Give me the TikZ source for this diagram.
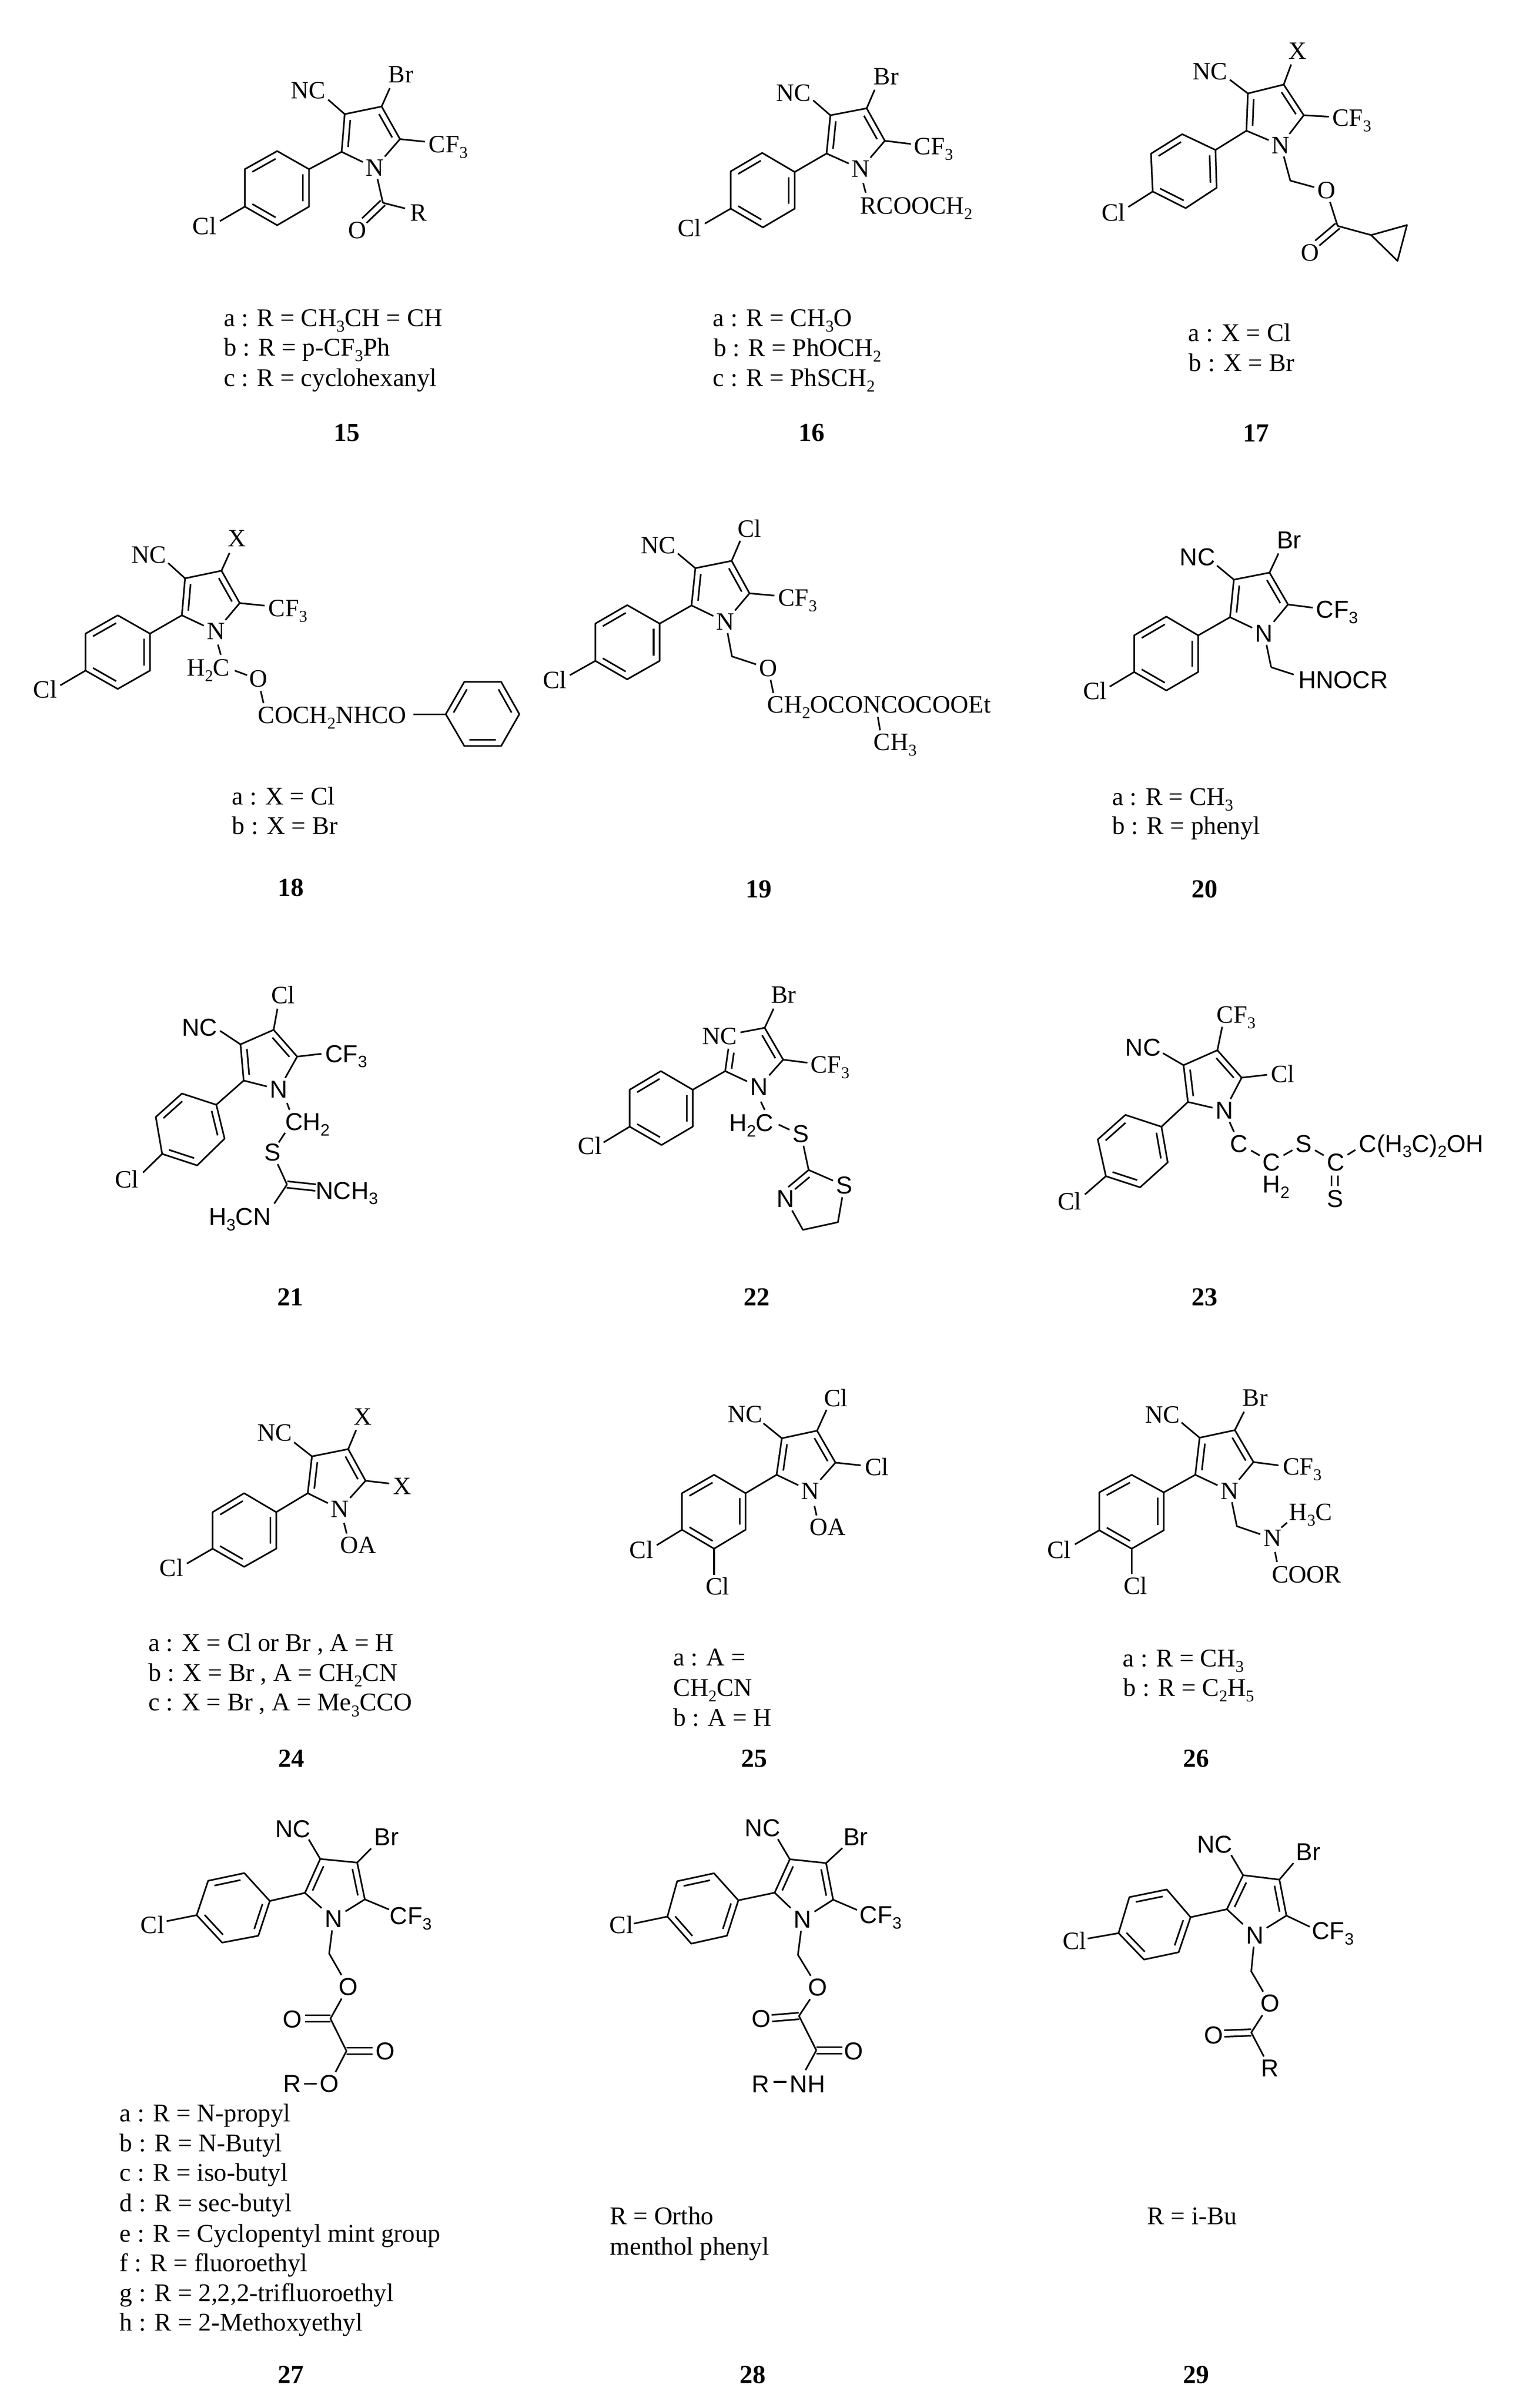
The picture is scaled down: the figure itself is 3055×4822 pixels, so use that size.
\documentclass[tikz,border=0pt]{standalone}
\usepackage{fontspec}
\setmainfont{Liberation Serif}
\newfontfamily\arial{Liberation Sans}
\usetikzlibrary{calc}
\newcommand\subs[1]{\raisebox{-.22em}{\fontsize{33}{33}\selectfont #1}}
\tikzset{
 bond/.style={line width=3.2pt,line join=round,line cap=butt,black},
 lab/.style={inner sep=6pt,anchor=base west,xshift=-6pt,font=\fontsize{50}{58}\selectfont},
 sl/.style={lab,font=\arial\fontsize{49}{58}\selectfont},
 leg/.style={lab,font=\fontsize{51}{58}\selectfont},
 num/.style={lab,font=\bfseries\fontsize{52}{58}\selectfont},
 zv/.style n args={4}{shift={(#1,#2)},x=#3pt,y=-#4pt}
}
\newcounter{endpt}
\newcommand\bto[2]{\stepcounter{endpt}\coordinate (e\theendpt) at (#2);\draw[bond] (#1) -- (e\theendpt);}
\newcommand\bbb[2]{\stepcounter{endpt}\coordinate (e\theendpt) at (#1);\coordinate (f\theendpt) at (#2);\draw[bond] (e\theendpt) -- (f\theendpt);}
\newcommand\dbl[2]{\draw[bond] ($(#1)!.14!(#2)!12pt!90:(#2)$) -- ($(#2)!.14!(#1)!12pt!-90:(#1)$);}
\newcommand\dblto[2]{\stepcounter{endpt}\coordinate (e\theendpt) at (#2);
 \draw[bond] ($(#1)!6.5pt!90:(e\theendpt)$) -- ($(e\theendpt)!6.5pt!-90:(#1)$);
 \draw[bond] ($(#1)!6.5pt!-90:(e\theendpt)$) -- ($(e\theendpt)!6.5pt!90:(#1)$);}
\newcommand\pyrpts[5]{\coordinate (#1c2) at (#2);\coordinate (#1c3) at (#3);\coordinate (#1c4) at (#4);\coordinate (#1c5) at (#5);}
\newcommand\arpts[7]{\coordinate (#1i) at (#2);\coordinate (#1t) at (#3);\coordinate (#1ul) at (#4);\coordinate (#1ll) at (#5);\coordinate (#1bo) at (#6);\coordinate (#1lr) at (#7);}
\newcommand\arring[1]{\draw[bond] (#1i) -- (#1t) -- (#1ul) -- (#1ll) -- (#1bo) -- (#1lr) -- cycle;
 \dbl{#1t}{#1ul}\dbl{#1ll}{#1bo}\dbl{#1lr}{#1i}}
\newcommand\core[1]{\draw[bond] (#1N) -- (#1c2) -- (#1c3) -- (#1c4) -- (#1c5) -- (#1N);
 \dbl{#1c5}{#1c4}\dbl{#1c3}{#1c2}
 \draw[bond] (#1c2) -- (#1i);
 \arring{#1}}
\begin{document}
\begin{tikzpicture}[x=1pt,y=-1pt]
\useasboundingbox (0,0) rectangle (3055,4822);
\fill[white] (0,0) rectangle (3055,4822);

% 15
\begin{scope}[zv={300}{100}{.5102}{.5102}]
\pyrpts{p15}{753,400}{765,252}{910,222}{982,350}
\arpts{p15}{625,468}{500,397}{373,468}{373,615}{500,688}{625,615}
\coordinate (p15co) at (915,600);
\node[lab] (p15nc) at (553,192) {NC};
\node[lab] (p15br) at (936,128) {Br};
\node[lab] (p15cf) at (1095,402) {CF\subs{3}};
\node[lab] (p15N) at (848,495) {N};
\node[lab] (p15cl) at (168,725) {Cl};
\node[lab] (p15o) at (778,740) {O};
\node[lab] (p15r) at (1022,672) {R};
\core{p15}
\bto{p15c3}{700,195}\bto{p15c4}{942,150}\bto{p15c5}{1080,360}\bto{p15ll}{275,672}
\draw[bond] (p15N) -- (p15co);
\dblto{p15co}{842,670}
\bto{p15co}{1002,622}
\node[leg] (p15la) at (290,1085) {a : R = CH\subs{3}CH = CH};
\node[leg] (p15lb) at (290,1200) {b : R = p-CF\subs{3}Ph};
\node[leg] (p15lc) at (290,1320) {c : R = cyclohexanyl};
\node[num] (p15n) at (722,1535) {15};
\end{scope}

% 16
\begin{scope}[zv={1300}{0}{.6378}{.6378}]
\pyrpts{p16}{557,482}{569,362}{683,340}{740,442}
\arpts{p16}{457,540}{355,480}{256,538}{256,655}{357,714}{457,655}
\node[lab] (p16nc) at (398,318) {NC};
\node[lab] (p16br) at (705,265) {Br};
\node[lab] (p16cf) at (832,485) {CF\subs{3}};
\node[lab] (p16N) at (636,556) {N};
\node[lab] (p16cl) at (90,742) {Cl};
\node[lab] (p16txt) at (662,672) {RCOOCH\subs{2}};
\core{p16}
\bto{p16c3}{515,315}\bto{p16c4}{708,282}\bto{p16c5}{822,452}\bto{p16ll}{175,702}
\bbb{672,575}{680,605}
\node[leg] (p16la) at (200,1025) {a : R = CH\subs{3}O};
\node[leg] (p16lb) at (202,1118) {b : R = PhOCH\subs{2}};
\node[leg] (p16lc) at (200,1213) {c : R = PhSCH\subs{2}};
\node[num] (p16n) at (470,1385) {16};
\end{scope}

% 17
\begin{scope}[zv={2100}{0}{.5741}{.5741}]
\pyrpts{p17}{690,456}{695,326}{820,295}{890,402}
\arpts{p17}{582,523}{466,468}{357,536}{363,668}{478,726}{586,655}
\coordinate (p17ch) at (843,630);
\coordinate (p17co) at (1008,788);
\coordinate (p17p) at (1125,820);
\coordinate (p17q) at (1250,785);
\coordinate (p17s) at (1217,910);
\node[lab] (p17nc) at (502,278) {NC};
\node[lab] (p17x) at (837,207) {X};
\node[lab] (p17cf) at (990,440) {CF\subs{3}};
\node[lab] (p17N) at (778,535) {N};
\node[lab] (p17cl) at (185,770) {Cl};
\node[lab] (p17o) at (937,693) {O};
\node[lab] (p17ox) at (880,910) {O};
\core{p17}
\bto{p17c3}{632,278}\bto{p17c4}{846,225}\bto{p17c5}{978,407}\bto{p17ll}{278,722}
\draw[bond] (p17N) -- (p17ch) -- (p17o);
\draw[bond] (p17o) -- (p17co) -- (p17p);
\dblto{p17co}{937,848}
\draw[bond] (p17p) -- (p17q) -- (p17s) -- cycle;
\node[leg] (p17la) at (487,1190) {a : X = Cl};
\node[leg] (p17lb) at (489,1295) {b : X = Br};
\node[num] (p17n) at (678,1540) {17};
\end{scope}

% 18
\begin{scope}[zv={0}{1000}{.7018}{.5102}]
\pyrpts{p18}{519,455}{528,310}{632,280}{684,407}
\arpts{p18}{428,527}{336,455}{244,527}{244,672}{336,744}{428,672}
\coordinate (p18a) at (1272,843);
\coordinate (p18b) at (1325,716);
\coordinate (p18c) at (1430,716);
\coordinate (p18d) at (1482,843);
\coordinate (p18e) at (1430,968);
\coordinate (p18f) at (1325,968);
\node[lab] (p18nc) at (375,250) {NC};
\node[lab] (p18x) at (650,185) {X};
\node[lab] (p18cf) at (766,460) {CF\subs{3}};
\node[lab] (p18N) at (590,550) {N};
\node[lab] (p18cl) at (95,780) {Cl};
\node[lab] (p18h) at (533,692) {H\subs{2}C};
\node[lab] (p18o) at (712,735) {O};
\node[lab] (p18txt) at (736,880) {COCH\subs{2}NHCO};
\core{p18}
\bto{p18c3}{480,250}\bto{p18c4}{655,210}\bto{p18c5}{755,417}\bto{p18ll}{172,730}
\bbb{622,570}{630,610}\bbb{670,672}{705,690}\bbb{744,752}{752,800}
\bto{p18a}{1180,843}
\draw[bond] (p18a) -- (p18b) -- (p18c) -- (p18d) -- (p18e) -- (p18f) -- cycle;
\dbl{p18b}{p18a}\dbl{p18f}{p18e}\dbl{p18d}{p18c}
\node[leg] (p18la) at (662,1198) {a : X = Cl};
\node[leg] (p18lb) at (662,1315) {b : X = Br};
\node[num] (p18n) at (793,1558) {18};
\end{scope}

% 19
\begin{scope}[zv={1050}{1000}{.6378}{.6378}]
\pyrpts{p19}{525,333}{537,216}{651,193}{707,295}
\arpts{p19}{425,390}{323,332}{223,390}{223,507}{323,565}{425,507}
\coordinate (p19ch) at (652,493);
\node[lab] (p19nc) at (365,170) {NC};
\node[lab] (p19x) at (670,118) {Cl};
\node[lab] (p19cf) at (797,335) {CF\subs{3}};
\node[lab] (p19N) at (603,410) {N};
\node[lab] (p19cl) at (58,594) {Cl};
\node[lab] (p19o) at (737,556) {O};
\node[lab] (p19txt) at (763,670) {CH\subs{2}OCONCOCOOEt};
\node[lab] (p19m) at (1097,788) {CH\subs{3}};
\core{p19}
\bto{p19c3}{482,170}\bto{p19c4}{678,130}\bto{p19c5}{785,302}\bto{p19ll}{143,552}
\draw[bond] (p19N) -- (p19ch) -- (p19o);
\bto{p19o}{782,608}
\bbb{1110,683}{1117,725}
\node[num] (p19n) at (695,1250) {19};
\end{scope}

% 20
\begin{scope}[zv={2050}{1000}{.6378}{.6378}]
\pyrpts{p20}{648,370}{660,252}{772,230}{830,330}
\arpts{p20}{548,427}{448,368}{347,427}{347,542}{448,600}{548,542}
\coordinate (p20ch) at (777,527);
\node[sl] (p20nc) at (490,208) {NC};
\node[sl] (p20br) at (795,155) {Br};
\node[sl] (p20cf) at (918,372) {CF\subs{3}};
\node[sl] (p20N) at (727,447) {N};
\node[lab] (p20cl) at (187,628) {Cl};
\node[sl] (p20txt) at (862,594) {HNOCR};
\core{p20}
\bto{p20c3}{607,208}\bto{p20c4}{800,170}\bto{p20c5}{908,340}\bto{p20ll}{270,588}
\draw[bond] (p20N) -- (p20ch);
\bto{p20ch}{848,550}
\node[leg] (p20la) at (278,960) {a : R = CH\subs{3}};
\node[leg] (p20lb) at (278,1052) {b : R = phenyl};
\node[num] (p20n) at (527,1250) {20};
\end{scope}

% 21
\begin{scope}[zv={150}{1900}{1.2755}{.5102}]
\pyrpts{p21}{265,517}{260,375}{312,318}{349,423}
\arpts{p21}{222,612}{168,568}{127,660}{137,805}{192,850}{235,745}
\coordinate (p21c) at (333,925);
\node[sl] (p21nc) at (168,342) {NC};
\node[lab] (p21x) at (308,215) {Cl};
\node[sl] (p21cf) at (393,445) {CF\subs{3}};
\node[sl] (p21N) at (306,585) {N};
\node[lab] (p21cl) at (63,937) {Cl};
\node[sl] (p21ch) at (330,712) {CH\subs{2}};
\node[sl] (p21s) at (297,832) {S};
\node[sl] (p21nm) at (378,982) {NCH\subs{3}};
\node[sl] (p21hc) at (210,1085) {H\subs{3}CN};
\core{p21}
\bto{p21c3}{228,322}\bto{p21c4}{318,235}\bto{p21c5}{387,412}\bto{p21ll}{107,878}
\bbb{333,605}{337,632}\bbb{330,722}{320,760}
\bto{p21s}{333,925}
\dblto{p21c}{378,937}
\bto{p21c}{313,1000}
\node[num] (p21n) at (318,1400) {21};
\end{scope}

% 22
\begin{scope}[zv={150}{1900}{1.2755}{.5102}]
\coordinate (p22c2) at (1021,480);
\coordinate (p22c4) at (1083,310);
\coordinate (p22c5) at (1112,435);
\coordinate (p22tc) at (1152,868);
\coordinate (p22tn) at (1120,935);
\coordinate (p22d) at (1198,1073);
\coordinate (p22e) at (1143,1103);
\coordinate (p22g) at (1026,392);
\arpts{p22}{970,553}{920,480}{871,553}{871,698}{921,770}{970,698}
\node[lab] (p22nc) at (985,375) {NC};
\node[lab] (p22br) at (1093,212) {Br};
\node[lab] (p22cf) at (1155,487) {CF\subs{3}};
\node[sl] (p22N) at (1060,575) {N};
\node[lab] (p22cl) at (790,807) {Cl};
\node[sl] (p22h) at (1027,717) {H\subs{2}C};
\node[sl] (p22s) at (1127,760) {S};
\node[sl] (p22ts) at (1195,962) {S};
\node[sl] (p22tN) at (1102,1015) {N};
\draw[bond] (p22N) -- (p22c2) -- (p22g);
\dbl{p22g}{p22c2}
\bbb{1045,328}{1083,310}
\draw[bond] (p22c4) -- (p22c5) -- (p22N);
\dbl{p22c5}{p22c4}
\draw[bond] (p22c2) -- (p22i);
\arring{p22}
\bto{p22c4}{1097,235}\bto{p22c5}{1150,447}\bto{p22ll}{830,760}
\bbb{1077,600}{1083,632}\bbb{1105,690}{1122,710}
\bto{p22s}{1152,868}
\draw[bond] (p22ts) -- (p22tc) -- (p22tn);
\dbl{p22tc}{p22tn}
\draw[bond] (p22ts) -- (p22d) -- (p22e) -- (p22tN);
\node[num] (p22n) at (1050,1400) {22};
\end{scope}

% 23
\begin{scope}[zv={1900}{1900}{.7369}{.4464}]
\pyrpts{p23}{650,687}{638,522}{730,455}{796,578}
\arpts{p23}{578,798}{480,745}{405,855}{427,1020}{520,1070}{595,958}
\coordinate (p23cc) at (1049,1018);
\node[sl] (p23nc) at (480,480) {NC};
\node[lab] (p23cf) at (728,333) {CF\subs{3}};
\node[lab] (p23x) at (875,600) {Cl};
\node[sl] (p23N) at (725,763) {N};
\node[lab] (p23cl) at (296,1170) {Cl};
\node[sl] (p23c1) at (765,912) {C};
\node[sl] (p23c2x) at (853,995) {C};
\node[sl] (p23h) at (853,1095) {H\subs{2}};
\node[sl] (p23s) at (942,912) {S};
\node[sl] (p23c3x) at (1027,995) {C};
\node[sl] (p23s2) at (1028,1160) {S};
\node[sl] (p23txt) at (1115,912) {C(H\subs{3}C)\subs{2}OH};
\core{p23}
\bto{p23c3}{582,468}\bto{p23c4}{743,350}\bto{p23c5}{865,565}\bto{p23ll}{370,1102}
\draw[bond] (p23N) -- (p23c1);
\draw[bond] (p23c1) -- (p23c2x);
\draw[bond] (p23c2x) -- (p23s);
\draw[bond] (p23s) -- (p23c3x);
\bto{p23c3x}{1105,902}
\dblto{p23cc}{1049,1065}
\node[num] (p23n) at (660,1600) {23};
\end{scope}

% 24
\begin{scope}[zv={250}{2750}{1.0526}{.542}]
\pyrpts{p24}{348,443}{356,307}{425,280}{458,397}
\arpts{p24}{288,513}{227,443}{167,513}{167,648}{227,715}{288,648}
\node[lab] (p24nc) at (252,250) {NC};
\node[lab] (p24x) at (435,190) {X};
\node[lab] (p24y) at (510,447) {X};
\node[lab] (p24N) at (392,532) {N};
\node[lab] (p24cl) at (66,750) {Cl};
\node[lab] (p24oa) at (410,665) {OA};
\core{p24}
\bto{p24c3}{322,255}\bto{p24c4}{440,210}\bto{p24c5}{503,407}\bto{p24ll}{118,703}
\bbb{417,553}{422,592}
\node[leg] (p24la) at (45,1027) {a : X = Cl or Br , A = H};
\node[leg] (p24lb) at (45,1137) {b : X = Br , A = CH\subs{2}CN};
\node[leg] (p24lc) at (45,1247) {c : X = Br , A = Me\subs{3}CCO};
\node[num] (p24n) at (292,1455) {24};
\end{scope}

% 25
\begin{scope}[zv={250}{2750}{1.0526}{.542}]
\pyrpts{p25}{1240,375}{1250,240}{1317,212}{1352,330}
\arpts{p25}{1181,443}{1121,375}{1060,443}{1060,578}{1121,648}{1181,578}
\node[lab] (p25nc) at (1147,182) {NC};
\node[lab] (p25x) at (1330,122) {Cl};
\node[lab] (p25y) at (1408,378) {Cl};
\node[lab] (p25N) at (1287,465) {N};
\node[lab] (p25oa) at (1303,598) {OA};
\node[lab] (p25cl) at (960,683) {Cl};
\node[lab] (p25cm) at (1105,818) {Cl};
\core{p25}
\bto{p25c3}{1215,185}\bto{p25c4}{1335,135}\bto{p25c5}{1400,340}\bto{p25ll}{1012,635}\bto{p25bo}{1121,745}
\bbb{1312,490}{1316,525}
\node[leg] (p25la) at (1043,1080) {a : A =};
\node[leg] (p25lm) at (1043,1192) {CH\subs{2}CN};
\node[leg] (p25lb) at (1043,1303) {b : A = H};
\node[num] (p25n) at (1173,1455) {25};
\end{scope}

% 26
\begin{scope}[zv={1900}{2750}{.5741}{.542}]
\pyrpts{p26}{860,375}{875,238}{998,210}{1063,328}
\arpts{p26}{750,440}{638,375}{525,440}{525,580}{638,648}{750,580}
\coordinate (p26ch) at (1005,565);
\node[lab] (p26nc) at (685,183) {NC};
\node[lab] (p26br) at (1025,120) {Br};
\node[lab] (p26cf) at (1165,376) {CF\subs{3}};
\node[lab] (p26N) at (948,465) {N};
\node[lab] (p26cl) at (343,683) {Cl};
\node[lab] (p26cm) at (610,817) {Cl};
\node[lab] (p26h) at (1187,543) {H\subs{3}C};
\node[lab] (p26M) at (1097,640) {N};
\node[lab] (p26txt) at (1127,773) {COOR};
\core{p26}
\bto{p26c3}{812,182}\bto{p26c4}{1030,142}\bto{p26c5}{1150,340}\bto{p26ll}{440,632}\bto{p26bo}{638,742}
\draw[bond] (p26N) -- (p26ch) -- (p26M);
\bbb{1160,570}{1180,552}\bbb{1138,660}{1145,697}
\node[leg] (p26la) at (607,1083) {a : R = CH\subs{3}};
\node[leg] (p26lb) at (609,1192) {b : R = C\subs{2}H\subs{5}};
\node[num] (p26n) at (818,1455) {26};
\end{scope}

% 27
\begin{scope}[zv={200}{3550}{.5102}{.8097}]
\pyrpts{p27}{805,297}{865,213}{1010,222}{1040,313}
\arpts{p27}{667,317}{567,248}{425,267}{380,352}{480,420}{622,403}
\coordinate (p27ch) at (900,447);
\coordinate (p27ca) at (905,608);
\coordinate (p27cb) at (968,688);
\node[sl] (p27nc) at (688,160) {NC};
\node[sl] (p27br) at (1077,180) {Br};
\node[sl] (p27cf) at (1138,375) {CF\subs{3}};
\node[sl] (p27N) at (882,382) {N};
\node[lab] (p27cl) at (160,397) {Cl};
\node[sl] (p27o) at (937,550) {O};
\node[sl] (p27ox) at (717,630) {O};
\node[sl] (p27oy) at (1082,710) {O};
\node[sl] (p27r) at (720,790) {R};
\node[sl] (p27oz) at (863,790) {O};
\core{p27}
\bto{p27c3}{820,165}\bto{p27c4}{1065,187}\bto{p27c5}{1135,338}\bto{p27ll}{262,367}
\draw[bond] (p27N) -- (p27ch) -- (p27o);
\draw[bond] (p27o) -- (p27ca) -- (p27cb) -- (p27oz);
\dblto{p27ca}{805,608}\dblto{p27cb}{1070,688}
\draw[bond] (p27r) -- (p27oz);
\node[leg] (p27la) at (78,863) {a : R = N-propyl};
\node[leg] (p27lb) at (78,937) {b : R = N-Butyl};
\node[leg] (p27lc) at (78,1010) {c : R = iso-butyl};
\node[leg] (p27ld) at (78,1085) {d : R = sec-butyl};
\node[leg] (p27le) at (78,1160) {e : R = Cyclopentyl mint group};
\node[leg] (p27lf) at (78,1233) {f : R = fluoroethyl};
\node[leg] (p27lg) at (78,1307) {g : R = 2,2,2-trifluoroethyl};
\node[leg] (p27lh) at (78,1380) {h : R = 2-Methoxyethyl};
\node[num] (p27n) at (698,1510) {27};
\end{scope}

% 28
\begin{scope}[zv={1150}{3600}{1.0846}{.6378}]
\pyrpts{p28}{370,298}{398,193}{465,205}{478,320}
\arpts{p28}{303,322}{258,237}{190,262}{172,373}{216,458}{282,433}
\coordinate (p28ch) at (413,493);
\coordinate (p28ca) at (415,685);
\coordinate (p28cb) at (447,793);
\node[sl] (p28nc) at (315,122) {NC};
\node[sl] (p28br) at (497,150) {Br};
\node[sl] (p28cf) at (527,395) {CF\subs{3}};
\node[sl] (p28N) at (405,408) {N};
\node[lab] (p28cl) at (65,425) {Cl};
\node[sl] (p28o) at (432,622) {O};
\node[sl] (p28ox) at (328,720) {O};
\node[sl] (p28oy) at (498,822) {O};
\node[sl] (p28r) at (328,926) {R};
\node[sl] (p28nh) at (398,926) {NH};
\core{p28}
\bto{p28c3}{376,130}\bto{p28c4}{495,158}\bto{p28c5}{522,352}\bto{p28ll}{110,395}
\draw[bond] (p28N) -- (p28ch) -- (p28o);
\draw[bond] (p28o) -- (p28ca) -- (p28cb);
\dblto{p28ca}{365,692}\dblto{p28cb}{495,793}
\bto{p28cb}{427,855}
\bbb{368,892}{392,892}
\node[leg] (p28la) at (66,1340) {R = Ortho};
\node[leg] (p28lb) at (66,1435) {menthol phenyl};
\node[num] (p28n) at (305,1838) {28};
\end{scope}

% 29
\begin{scope}[zv={1150}{3600}{1.0846}{.6378}]
\pyrpts{p29}{1205,350}{1235,243}{1302,257}{1315,370}
\arpts{p29}{1138,375}{1094,288}{1025,312}{1005,425}{1052,508}{1116,485}
\coordinate (p29ch) at (1250,545);
\coordinate (p29co) at (1250,737);
\node[sl] (p29nc) at (1150,173) {NC};
\node[sl] (p29br) at (1333,197) {Br};
\node[sl] (p29cf) at (1362,445) {CF\subs{3}};
\node[sl] (p29N) at (1240,458) {N};
\node[lab] (p29cl) at (902,475) {Cl};
\node[sl] (p29o) at (1267,672) {O};
\node[sl] (p29ox) at (1163,772) {O};
\node[sl] (p29r) at (1268,875) {R};
\core{p29}
\bto{p29c3}{1213,180}\bto{p29c4}{1328,205}\bto{p29c5}{1358,405}\bto{p29ll}{948,442}
\draw[bond] (p29N) -- (p29ch) -- (p29o);
\draw[bond] (p29o) -- (p29co) -- (p29r);
\dblto{p29co}{1200,740}
\node[leg] (p29la) at (1058,1340) {R = i-Bu};
\node[num] (p29n) at (1124,1838) {29};
\end{scope}
\end{tikzpicture}
\end{document}
